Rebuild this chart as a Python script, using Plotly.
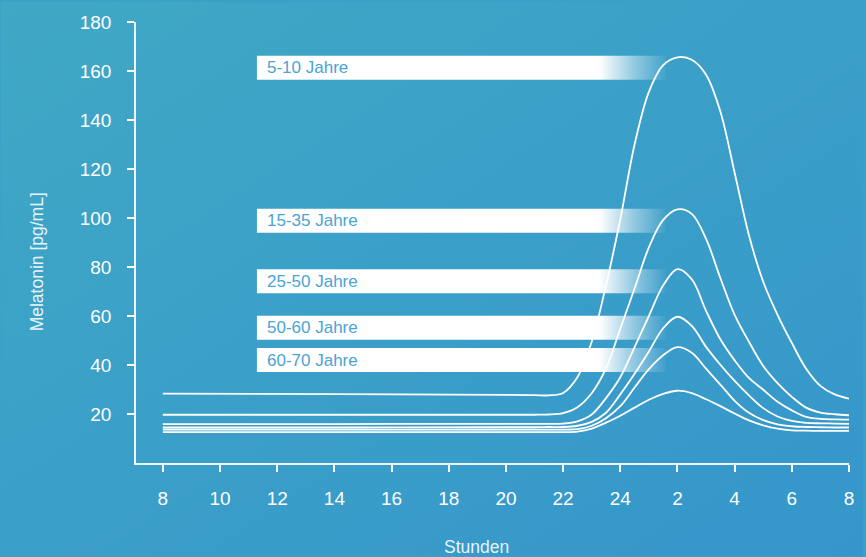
import base64
import plotly.graph_objects as go

# ---------------- data ----------------
hours = [8, 14, 20, 21, 21.5, 22, 22.5, 23, 23.5, 24, 24.5, 25, 25.5, 26, 26.5,
         27, 27.5, 28, 28.5, 29, 29.5, 30, 30.5, 31, 31.5, 32]

mel_5_10 = [28.3, 28.1, 27.8, 27.7, 27.6, 28.6, 35.0, 49.5, 72.5, 99.5, 130.0, 151.5, 162.4, 165.6, 164.6,
            158.5, 143.5, 118.5, 93.0, 74.0, 60.5, 49.0, 38.5, 31.5, 28.0, 26.3]
mel_15_35 = [19.7, 19.7, 19.7, 19.7, 19.8, 20.4, 22.8, 28.5, 38.6, 54.8, 71.2, 88.0, 99.2, 103.5, 101.7,
             91.5, 75.5, 60.5, 49.5, 39.6, 32.6, 27.0, 22.6, 20.6, 19.9, 19.5]
mel_25_50 = [15.9, 15.9, 16.0, 16.0, 16.0, 16.1, 17.0, 19.8, 26.5, 35.0, 47.3, 60.0, 72.5, 79.1, 75.0,
             62.1, 50.5, 41.9, 34.7, 29.9, 25.0, 21.5, 18.8, 18.0, 17.8, 17.7]
mel_50_60 = [14.5, 14.5, 14.6, 14.6, 14.7, 14.7, 15.2, 16.8, 20.5, 28.0, 36.4, 45.5, 55.0, 59.7, 56.0,
             47.4, 40.1, 33.5, 27.6, 22.4, 19.0, 17.2, 16.4, 16.2, 16.1, 16.0]
mel_60_70 = [13.6, 13.6, 13.6, 13.6, 13.6, 13.6, 13.8, 15.2, 18.3, 23.2, 30.8, 38.3, 44.0, 47.3, 45.0,
             38.5, 32.0, 25.4, 20.5, 17.5, 15.8, 15.0, 14.7, 14.6, 14.5, 14.5]
mel_70plus = [12.6, 12.6, 12.6, 12.6, 12.6, 12.6, 12.8, 14.0, 16.5, 19.3, 22.6, 25.8, 28.2, 29.5, 28.5,
              26.0, 23.2, 20.2, 17.4, 15.4, 14.0, 13.3, 13.2, 13.1, 13.1, 13.1]

label_texts = ["5-10 Jahre", "15-35 Jahre", "25-50 Jahre", "50-60 Jahre", "60-70 Jahre"]
label_levels = [161.3, 98.9, 74.2, 55.2, 42.0]

x_tickvals = [8, 10, 12, 14, 16, 18, 20, 22, 24, 26, 28, 30, 32]
x_ticktext = ["8", "10", "12", "14", "16", "18", "20", "22", "24", "2", "4", "6", "8"]
y_tickvals = [20, 40, 60, 80, 100, 120, 140, 160, 180]

# ---------------- layout geometry / styling ----------------
W, H = 866, 557
M_L, M_R, M_T, M_B = 136, 14, 20, 94
X_RANGE = [7.06, 32.0]
Y_RANGE = [0, 180]
PW, PH = W - M_L - M_R, H - M_T - M_B

def px_to_paper_x(px):
    return (px - M_L) / PW

def px_to_paper_y(py):
    return (H - M_B - py) / PH

FONT = "Liberation Sans, Arial, sans-serif"
LABEL_X0, LABEL_SOLID_END, LABEL_X1 = 11.29, 23.2, 25.6
LABEL_HALF_H = 4.9

fig = go.Figure()

for vals in [mel_5_10, mel_15_35, mel_25_50, mel_50_60, mel_60_70, mel_70plus]:
    fig.add_trace(go.Scatter(
        x=hours, y=vals, mode="lines",
        line=dict(color="white", width=1.8, shape="spline", smoothing=1.0),
        hoverinfo="skip", showlegend=False,
    ))

# label boxes with horizontal fade
frac = (LABEL_SOLID_END - LABEL_X0) / (LABEL_X1 - LABEL_X0)
for txt, lvl in zip(label_texts, label_levels):
    fig.add_trace(go.Scatter(
        x=[LABEL_X0, LABEL_X1, LABEL_X1, LABEL_X0, LABEL_X0],
        y=[lvl - LABEL_HALF_H, lvl - LABEL_HALF_H, lvl + LABEL_HALF_H, lvl + LABEL_HALF_H, lvl - LABEL_HALF_H],
        mode="lines", line=dict(width=0, color="rgba(0,0,0,0)"),
        fill="toself",
        fillgradient=dict(
            type="horizontal", start=LABEL_X0, stop=LABEL_X1,
            colorscale=[[0, "rgba(255,255,255,1)"], [frac, "rgba(255,255,255,1)"],
                        [frac + (1 - frac) * 0.5, "rgba(255,255,255,0.45)"],
                        [1, "rgba(255,255,255,0)"]],
        ),
        hoverinfo="skip", showlegend=False,
    ))
    fig.add_annotation(
        x=LABEL_X0, y=lvl, xref="x", yref="y", text=txt, showarrow=False,
        xanchor="left", yanchor="middle", xshift=8,
        font=dict(family=FONT, size=17, color="#4aa4d5"),
    )

# axis titles
fig.add_annotation(
    x=px_to_paper_x(36), y=px_to_paper_y(261), xref="paper", yref="paper",
    text="Melatonin [pg/mL]", textangle=-90, showarrow=False,
    xanchor="center", yanchor="middle",
    font=dict(family=FONT, size=17.5, color="rgba(255,255,255,0.9)"),
)
fig.add_annotation(
    x=px_to_paper_x(478), y=px_to_paper_y(547), xref="paper", yref="paper",
    text="Stunden", showarrow=False, xanchor="center", yanchor="middle",
    font=dict(family=FONT, size=17.5, color="rgba(255,255,255,0.9)"),
)

# background diagonal gradient
svg = (
    f'<svg xmlns="http://www.w3.org/2000/svg" width="{W}" height="{H}" viewBox="0 0 {W} {H}">'
    '<defs><linearGradient id="g" x1="0" y1="0" x2="1" y2="1">'
    '<stop offset="0" stop-color="#40a8c5"/><stop offset="1" stop-color="#3596cb"/>'
    '</linearGradient></defs>'
    f'<rect width="{W}" height="{H}" fill="url(#g)"/></svg>'
)
svg_uri = "data:image/svg+xml;base64," + base64.b64encode(svg.encode()).decode()
fig.add_layout_image(
    source=svg_uri, xref="paper", yref="paper",
    x=px_to_paper_x(0), y=px_to_paper_y(0),
    sizex=W / PW, sizey=H / PH, sizing="stretch",
    xanchor="left", yanchor="top", layer="below",
)

axis_common = dict(
    showgrid=False, zeroline=False, showline=True,
    linecolor="rgba(255,255,255,0.9)", linewidth=1.5,
    ticks="outside", ticklen=7, tickwidth=1.5, tickcolor="white",
    tickfont=dict(family=FONT, size=19, color="white"),
)

fig.update_layout(
    width=W, height=H,
    margin=dict(l=M_L, r=M_R, t=M_T, b=M_B, pad=0),
    paper_bgcolor="#3ba0c8", plot_bgcolor="rgba(0,0,0,0)",
    xaxis=dict(range=X_RANGE, tickvals=x_tickvals, ticktext=x_ticktext,
               ticklabelstandoff=10, **axis_common),
    yaxis=dict(range=Y_RANGE, tickvals=y_tickvals, ticklabelstandoff=12, **axis_common),
    showlegend=False,
)

fig.write_html("out.html")
